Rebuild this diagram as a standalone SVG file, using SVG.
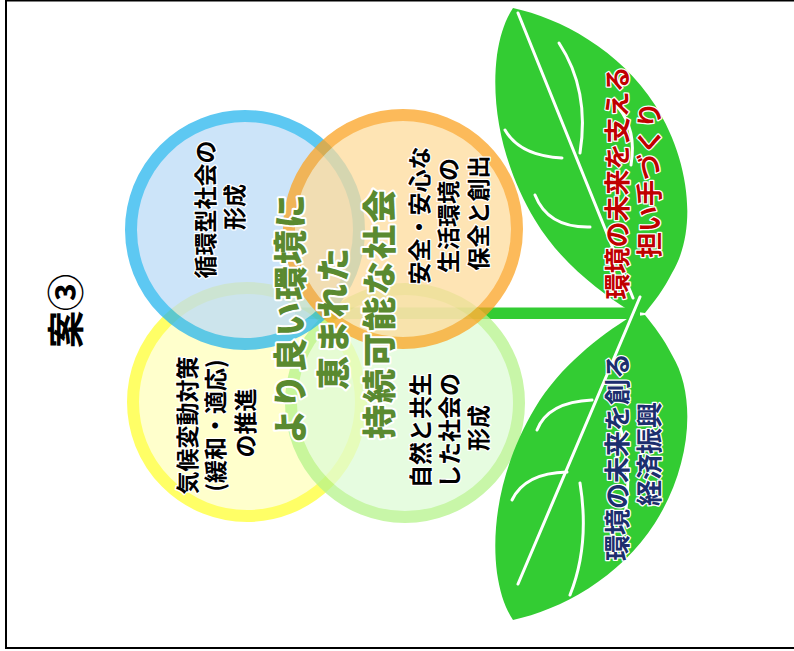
<svg xmlns="http://www.w3.org/2000/svg" width="794" height="651" viewBox="0 0 794 651">
  <defs>
    <style>
      .jp { font-family: "Noto Sans CJK JP", "Noto Sans CJK SC", sans-serif; font-weight: bold; text-anchor: middle; dominant-baseline: central; paint-order: stroke; stroke-linejoin: round; }
      .circ { font-size: 23px; fill: #000; stroke: #fff; stroke-width: 2.5px; }
      .main { font-size: 34px; font-weight: 900; fill: #5a8a30; stroke: #fff; stroke-width: 4px; letter-spacing: 2px; }
      .leaf-red { font-size: 26px; fill: #c00000; stroke: #fff; stroke-width: 2.5px; }
      .leaf-navy { font-size: 26px; fill: #1c2f6e; stroke: #fff; stroke-width: 2.5px; }
      .title { font-size: 37px; fill: #000; }
      .ring { stroke-width: 12; }
      .vein { fill: none; stroke: #fff; stroke-width: 3; stroke-linecap: round; }
      .leaf { fill: #33cc33; }
    </style>
    <path id="leafShape" d="M513,8 C560,18 620,50 655,105 C690,160 698,230 672,273 C664,289 654,302 645,313 L630,311 C600,292 560,262 535,220 C505,170 490,110 497,55 C500,35 505,20 513,8 Z"/>
  </defs>

  <rect x="0" y="0" width="794" height="651" fill="#fff"/>
  <!-- frame -->
  <rect x="6" y="0.5" width="798" height="647.5" fill="#fff" stroke="#000" stroke-width="2"/>

  <!-- stem (behind the circles) -->
  <g id="stem">
    <rect x="295" y="307.5" width="345" height="11.5" fill="#33cc33"/>
  </g>

  <!-- four overlapping circles -->
  <g id="circle-climate" opacity="0.75">
    <circle cx="247" cy="402" r="114" fill="#ffffbb" stroke="#ffff33" class="ring"/>
  </g>
  <g id="circle-nature" opacity="0.75">
    <circle cx="405" cy="403" r="114" fill="#defcd6" stroke="#b6f48b" class="ring"/>
  </g>
  <g id="circle-recycle" opacity="0.75">
    <circle cx="245" cy="230" r="114" fill="#bcdbf7" stroke="#28b6ee" class="ring"/>
  </g>
  <g id="circle-safety" opacity="0.75">
    <circle cx="403" cy="229" r="114" fill="#fedb9b" stroke="#fca423" class="ring"/>
  </g>

  <!-- leaves -->
  <g id="leaf-upper">
    <use href="#leafShape" class="leaf"/>
    <path class="vein" d="M518,13 L633,298"/>
    <path class="vein" d="M559,43 Q590,90 580,153"/>
    <path class="vein" d="M505,130 Q520,156 562,158"/>
    <path class="vein" d="M618,107 Q637,130 631,165"/>
    <path class="vein" d="M535,195 Q548,228 590,227"/>
  </g>
  <g id="leaf-lower">
    <use href="#leafShape" class="leaf" transform="translate(0,628) scale(1,-1)"/>
    <path class="vein" d="M640,297 L518,584"/>
    <path class="vein" d="M537,430 Q548,402 592,400"/>
    <path class="vein" d="M512,500 Q525,473 567,472"/>
    <path class="vein" d="M580,483 Q590,545 570,595"/>
    <path class="vein" d="M617,417 Q635,470 623,527"/>
  </g>

  <!-- labels (all set vertically, reading bottom to top) -->
  <g id="title">
    <text class="jp title" transform="translate(64,311) rotate(-90)">案③</text>
  </g>

  <g id="label-recycle">
    <text class="jp circ" transform="translate(218,207) rotate(-90)">
      <tspan x="0" y="-14.5">循環型社会の</tspan>
      <tspan x="0" y="14.5">形成</tspan>
    </text>
  </g>
  <g id="label-safety">
    <text class="jp circ" transform="translate(447,213) rotate(-90)">
      <tspan x="0" y="-29">安全・安心な</tspan>
      <tspan x="0" y="0">生活環境の</tspan>
      <tspan x="0" y="30">保全と創出</tspan>
    </text>
  </g>
  <g id="label-climate">
    <text class="jp circ" transform="translate(215,423) rotate(-90)">
      <tspan x="0" y="-29">気候変動対策</tspan>
      <tspan x="0" y="-1">(緩和・適応)</tspan>
      <tspan x="0" y="29">の推進</tspan>
    </text>
  </g>
  <g id="label-nature">
    <text class="jp circ" transform="translate(448,428) rotate(-90)">
      <tspan x="0" y="-29">自然と共生</tspan>
      <tspan x="0" y="0">した社会の</tspan>
      <tspan x="0" y="29">形成</tspan>
    </text>
  </g>

  <g id="label-center">
    <text class="jp main" transform="translate(332,313) rotate(-90)">
      <tspan x="0" y="-44">より良い環境に</tspan>
      <tspan x="0" y="-1">恵まれた</tspan>
      <tspan x="0" y="45">持続可能な社会</tspan>
    </text>
  </g>

  <g id="label-leaf-upper">
    <text class="jp leaf-red" transform="translate(631,180) rotate(-90)">
      <tspan x="0" y="-16">環境の未来を支える</tspan>
      <tspan x="0" y="16">担い手づくり</tspan>
    </text>
  </g>
  <g id="label-leaf-lower">
    <text class="jp leaf-navy" transform="translate(631,454) rotate(-90)">
      <tspan x="0" y="-16">環境の未来を創る</tspan>
      <tspan x="0" y="16">経済振興</tspan>
    </text>
  </g>
</svg>
